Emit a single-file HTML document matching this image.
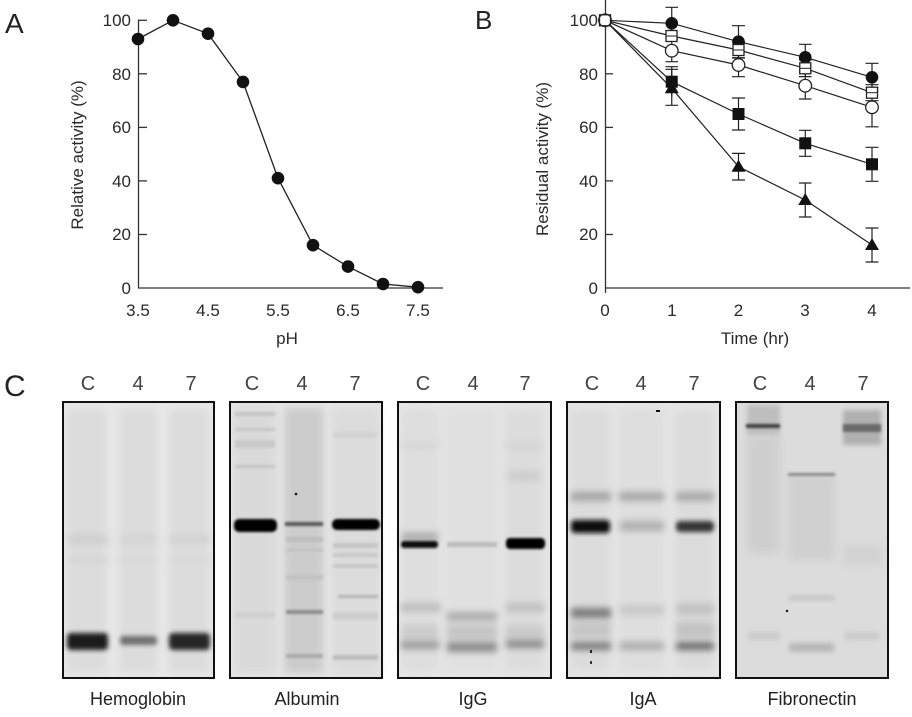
<!DOCTYPE html>
<html><head><meta charset="utf-8"><style>
html,body{margin:0;padding:0;background:#fff;}
svg{display:block;}
text{font-family:"Liberation Sans",Arial,sans-serif;}
</style></head><body>
<svg width="912" height="717" viewBox="0 0 912 717" xmlns="http://www.w3.org/2000/svg">
<defs>
<filter id="b1" x="-20%" y="-200%" width="140%" height="500%"><feGaussianBlur stdDeviation="1.2"/></filter>
<filter id="b2" x="-20%" y="-200%" width="140%" height="500%"><feGaussianBlur stdDeviation="2.4"/></filter>
<filter id="b3" x="-20%" y="-200%" width="140%" height="500%"><feGaussianBlur stdDeviation="3.5"/></filter>
<filter id="b5" x="-20%" y="-20%" width="140%" height="140%"><feGaussianBlur stdDeviation="4"/></filter>
</defs>
<rect width="912" height="717" fill="#fff"/>

<!-- Panel labels -->
<text x="5" y="33" font-size="28" fill="#222">A</text>
<text x="475" y="29" font-size="26" fill="#222">B</text>
<text x="4" y="396" font-size="30" fill="#222">C</text>

<!-- ===== Panel A ===== -->
<g stroke="#333" stroke-width="1.3" fill="none">
<line x1="138.5" y1="19.5" x2="138.5" y2="288"/>
<line x1="138" y1="288" x2="443" y2="288"/>
<line x1="138" y1="20.3" x2="147" y2="20.3"/>
<line x1="138" y1="73.8" x2="147" y2="73.8"/>
<line x1="138" y1="127.4" x2="147" y2="127.4"/>
<line x1="138" y1="180.9" x2="147" y2="180.9"/>
<line x1="138" y1="234.5" x2="147" y2="234.5"/>
</g>
<g font-size="17" fill="#2a2a2a" text-anchor="end">
<text x="131" y="26">100</text>
<text x="131" y="80">80</text>
<text x="131" y="133">60</text>
<text x="131" y="187">40</text>
<text x="131" y="240">20</text>
<text x="131" y="294">0</text>
</g>
<g font-size="17" fill="#2a2a2a" text-anchor="middle">
<text x="138" y="316">3.5</text>
<text x="208" y="316">4.5</text>
<text x="278" y="316">5.5</text>
<text x="348" y="316">6.5</text>
<text x="418" y="316">7.5</text>
<text x="287" y="344">pH</text>
</g>
<text transform="translate(83,155) rotate(-90)" font-size="17" fill="#2a2a2a" text-anchor="middle">Relative activity (%)</text>
<polyline fill="none" stroke="#222" stroke-width="1.3" points="138,39 173,20.3 208,33.7 243,81.9 278,178.2 313,245.2 348,266.6 383,284 418,287.2"/>
<g fill="#111">
<circle cx="138" cy="39" r="6.3"/><circle cx="173" cy="20.3" r="6.3"/><circle cx="208" cy="33.7" r="6.3"/>
<circle cx="243" cy="81.9" r="6.3"/><circle cx="278" cy="178.2" r="6.3"/><circle cx="313" cy="245.2" r="6.3"/>
<circle cx="348" cy="266.6" r="6.3"/><circle cx="383" cy="284" r="6.3"/><circle cx="418" cy="287.2" r="6.3"/>
</g>

<!-- ===== Panel B ===== -->
<g stroke="#333" stroke-width="1.3" fill="none">
<line x1="605.5" y1="0" x2="605.5" y2="293"/>
<line x1="605" y1="288" x2="910" y2="288"/>
<line x1="605" y1="73.8" x2="613" y2="73.8"/>
<line x1="605" y1="127.4" x2="613" y2="127.4"/>
<line x1="605" y1="180.9" x2="613" y2="180.9"/>
<line x1="605" y1="234.5" x2="613" y2="234.5"/>
</g>
<g font-size="17" fill="#2a2a2a" text-anchor="end">
<text x="598" y="26">100</text>
<text x="598" y="80">80</text>
<text x="598" y="133">60</text>
<text x="598" y="187">40</text>
<text x="598" y="240">20</text>
<text x="598" y="294">0</text>
</g>
<g font-size="17" fill="#2a2a2a" text-anchor="middle">
<text x="605" y="316">0</text>
<text x="672" y="316">1</text>
<text x="738.5" y="316">2</text>
<text x="805" y="316">3</text>
<text x="872" y="316">4</text>
<text x="755" y="344">Time (hr)</text>
</g>
<text transform="translate(548,159) rotate(-90)" font-size="17" fill="#2a2a2a" text-anchor="middle">Residual activity (%)</text>

<!-- lines -->
<g fill="none" stroke="#222" stroke-width="1.2">
<polyline points="605,20.3 671.75,23.3 738.5,41.7 805.25,57.3 872,77.3"/>
<polyline points="605,20.3 671.75,36 738.5,50 805.25,68.3 872,92.7"/>
<polyline points="605,20.3 671.75,50.7 738.5,65 805.25,85.7 872,107.3"/>
<polyline points="605,20.3 671.75,81.7 738.5,114 805.25,143.3 872,164.3"/>
<polyline points="605,20.3 671.75,88.3 738.5,166.7 805.25,200 872,245"/>
</g>
<!-- error bars -->
<g fill="none" stroke="#222" stroke-width="1.2">
<path d="M671.75,7.3V39.3M665.5,7.3H678M665.5,39.3H678"/>
<path d="M738.5,25.7V57.7M732,25.7H745M732,57.7H745"/>
<path d="M805.25,44.3V70.3M799,44.3H811.5M799,70.3H811.5"/>
<path d="M872,63.3V91.3M865.5,63.3H878.5M865.5,91.3H878.5"/>
<path d="M738.5,42V58M732,42H745M732,58H745"/>
<path d="M805.25,60V76.6M799,60H811.5M799,76.6H811.5"/>
<path d="M872,84.7V100.7M865.5,84.7H878.5M865.5,100.7H878.5"/>
<path d="M671.75,39.7V61.7M665.5,61.7H678"/>
<path d="M738.5,53.3V76.7M732,76.7H745"/>
<path d="M805.25,72.4V99M799,72.4H811.5M799,99H811.5"/>
<path d="M872,87.8V126.8M865.5,87.8H878.5M865.5,126.8H878.5"/>
<path d="M671.75,66.7V96.7M665.5,66.7H678"/>
<path d="M738.5,98V130M732,98H745M732,130H745"/>
<path d="M805.25,130.3V156.3M799,130.3H811.5M799,156.3H811.5"/>
<path d="M872,147.3V181.3M865.5,147.3H878.5M865.5,181.3H878.5"/>
<path d="M671.75,69.3V105.3M665.5,69.3H678M665.5,105.3H678"/>
<path d="M738.5,153.4V180M732,153.4H745M732,180H745"/>
<path d="M805.25,183V217M799,183H811.5M799,217H811.5"/>
<path d="M872,228V262M865.5,228H878.5M865.5,262H878.5"/>
</g>
<!-- markers -->
<g fill="#111">
<polygon points="671.75,81.3 664.75,93.3 678.75,93.3"/>
<polygon points="738.5,159.7 731.5,171.7 745.5,171.7"/>
<polygon points="805.25,193 798.25,205 812.25,205"/>
<polygon points="872,238 865,250 879,250"/>
<rect x="665.75" y="75.7" width="12" height="12"/>
<rect x="732.5" y="108" width="12" height="12"/>
<rect x="799.25" y="137.3" width="12" height="12"/>
<rect x="866" y="158.3" width="12" height="12"/>
<circle cx="671.75" cy="23.3" r="6.3"/>
<circle cx="738.5" cy="41.7" r="6.3"/>
<circle cx="805.25" cy="57.3" r="6.3"/>
<circle cx="872" cy="77.3" r="6.3"/>
</g>
<g fill="#fff" stroke="#222" stroke-width="1.3">
<circle cx="671.75" cy="50.7" r="6.3"/>
<circle cx="738.5" cy="65" r="6.3"/>
<circle cx="805.25" cy="85.7" r="6.3"/>
<circle cx="872" cy="107.3" r="6.3"/>
<circle cx="605" cy="20.3" r="6.3"/>
<rect x="666" y="30.5" width="11" height="11"/>
<rect x="733" y="44.5" width="11" height="11"/>
<rect x="799.75" y="62.8" width="11" height="11"/>
<rect x="866.5" y="87.2" width="11" height="11"/>
<rect x="599.5" y="14.8" width="11" height="11" fill="none"/>
</g>
<g stroke="#222" stroke-width="1">
<line x1="666" y1="36" x2="677" y2="36"/>
<line x1="733" y1="50" x2="744" y2="50"/>
<line x1="799.75" y1="68.3" x2="810.75" y2="68.3"/>
<line x1="866.5" y1="92.7" x2="877.5" y2="92.7"/>
</g>

<!-- ===== Panel C ===== -->
<g font-size="20" fill="#444" text-anchor="middle">
<text x="88" y="390">C</text><text x="138" y="390">4</text><text x="191" y="390">7</text>
<text x="252" y="390">C</text><text x="302" y="390">4</text><text x="355" y="390">7</text>
<text x="423" y="390">C</text><text x="473" y="390">4</text><text x="525" y="390">7</text>
<text x="592" y="390">C</text><text x="641" y="390">4</text><text x="694" y="390">7</text>
<text x="760" y="390">C</text><text x="810" y="390">4</text><text x="863" y="390">7</text>
</g>
<g font-size="18" fill="#222" text-anchor="middle">
<text x="138" y="705">Hemoglobin</text>
<text x="307" y="705">Albumin</text>
<text x="473" y="705">IgG</text>
<text x="643" y="705">IgA</text>
<text x="812" y="705">Fibronectin</text>
</g>

<!-- Gel 1 Hemoglobin -->
<g>
<rect x="63" y="402" width="151" height="276" fill="#e6e6e6"/>
<g filter="url(#b5)" fill="#dcdcdc">
<rect x="68" y="410" width="38" height="262"/><rect x="120" y="410" width="36" height="262"/><rect x="170" y="410" width="38" height="262"/>
</g>
<g filter="url(#b3)">
<rect x="68" y="535" width="40" height="9" fill="#cfcfcf"/>
<rect x="120" y="535" width="36" height="9" fill="#d4d4d4"/>
<rect x="170" y="535" width="40" height="9" fill="#d2d2d2"/>
<rect x="68" y="557" width="40" height="6" fill="#d6d6d6"/>
<rect x="120" y="557" width="36" height="6" fill="#d8d8d8"/>
<rect x="170" y="557" width="40" height="6" fill="#d8d8d8"/>
</g>
<g filter="url(#b2)">
<rect x="67" y="633" width="41" height="17" rx="4" fill="#1a1a1a"/>
<rect x="120" y="636" width="37" height="9" rx="3" fill="#707070"/>
<rect x="169" y="633" width="41" height="17" rx="4" fill="#262626"/>
</g>
<rect x="63" y="402" width="151" height="276" fill="none" stroke="#111" stroke-width="2"/>
</g>

<!-- Gel 2 Albumin -->
<g>
<rect x="230" y="402" width="152" height="276" fill="#e4e4e4"/>
<g filter="url(#b5)">
<rect x="234" y="408" width="42" height="265" fill="#dadada"/>
<rect x="285" y="408" width="38" height="265" fill="#cccccc"/>
<rect x="333" y="408" width="46" height="265" fill="#dcdcdc"/>
</g>
<g filter="url(#b1)">
<rect x="235" y="412" width="40" height="4" fill="#c4c4c4"/>
<rect x="235" y="428" width="40" height="3" fill="#c6c6c6"/>
<rect x="235" y="440" width="40" height="8" fill="#cacaca"/>
<rect x="235" y="465" width="40" height="3" fill="#c4c4c4"/>
<rect x="333" y="432" width="44" height="6" fill="#d2d2d2"/>
<rect x="286" y="537" width="37" height="5" fill="#bdbdbd"/>
<rect x="286" y="548" width="37" height="4" fill="#c4c4c4"/>
<rect x="286" y="575" width="37" height="5" fill="#c2c2c2"/>
<rect x="286" y="610" width="37" height="4" fill="#8a8a8a"/>
<rect x="286" y="654" width="37" height="4" fill="#a8a8a8"/>
<rect x="333" y="543" width="45" height="5" fill="#c4c4c4"/>
<rect x="333" y="553" width="45" height="4" fill="#c8c8c8"/>
<rect x="333" y="564" width="45" height="4" fill="#c8c8c8"/>
<rect x="338" y="595" width="40" height="3" fill="#b4b4b4"/>
<rect x="333" y="655" width="45" height="5" fill="#bcbcbc"/>
<rect x="235" y="612" width="40" height="6" fill="#d0d0d0"/>
<rect x="333" y="612" width="45" height="8" fill="#cdcdcd"/>
</g>
<g filter="url(#b1)">
<rect x="234" y="519" width="43" height="13" rx="5" fill="#000"/>
<rect x="285" y="522" width="38" height="4" fill="#555"/>
<rect x="332" y="519" width="48" height="11" rx="5" fill="#050505"/>
</g>
<circle cx="296" cy="494" r="1.3" fill="#111"/>
<rect x="230" y="402" width="152" height="276" fill="none" stroke="#111" stroke-width="2"/>
</g>

<!-- Gel 3 IgG -->
<g>
<rect x="398" y="402" width="153" height="276" fill="#e4e4e4"/>
<g filter="url(#b5)">
<rect x="402" y="410" width="36" height="260" fill="#dedede"/>
<rect x="446" y="410" width="50" height="260" fill="#e0e0e0"/>
<rect x="506" y="410" width="36" height="260" fill="#dcdcdc"/>
</g>
<g filter="url(#b3)">
<rect x="402" y="443" width="36" height="6" fill="#d4d4d4"/>
<rect x="506" y="443" width="36" height="6" fill="#d4d4d4"/>
<rect x="508" y="472" width="32" height="8" fill="#cbcbcb"/>
<rect x="402" y="533" width="36" height="8" fill="#a8a8a8"/>
<rect x="401" y="603" width="40" height="9" fill="#bdbdbd"/>
<rect x="447" y="612" width="50" height="9" fill="#aeaeae"/>
<rect x="506" y="603" width="38" height="9" fill="#c0c0c0"/>
<rect x="402" y="625" width="36" height="14" fill="#cccccc"/>
<rect x="447" y="625" width="50" height="14" fill="#c4c4c4"/>
<rect x="506" y="625" width="38" height="14" fill="#cacaca"/>
<rect x="401" y="641" width="38" height="8" fill="#999"/>
<rect x="447" y="642" width="50" height="10" fill="#8c8c8c"/>
<rect x="506" y="640" width="38" height="8" fill="#8a8a8a"/>
</g>
<g filter="url(#b1)">
<rect x="401" y="541" width="37" height="7" rx="3" fill="#111"/>
<rect x="447" y="542" width="50" height="5" fill="#bcbcbc"/>
<rect x="506" y="538" width="39" height="11" rx="4" fill="#000"/>
</g>
<rect x="398" y="402" width="153" height="276" fill="none" stroke="#111" stroke-width="2"/>
</g>

<!-- Gel 4 IgA -->
<g>
<rect x="567" y="402" width="153" height="276" fill="#e4e4e4"/>
<g filter="url(#b5)">
<rect x="571" y="410" width="38" height="260" fill="#dcdcdc"/>
<rect x="619" y="410" width="44" height="260" fill="#dedede"/>
<rect x="676" y="410" width="37" height="260" fill="#dcdcdc"/>
</g>
<g filter="url(#b3)">
<rect x="571" y="492" width="40" height="9" fill="#a4a4a4"/>
<rect x="619" y="492" width="45" height="9" fill="#a8a8a8"/>
<rect x="676" y="492" width="38" height="9" fill="#a8a8a8"/>
<rect x="620" y="521" width="44" height="10" fill="#b0b0b0"/>
<rect x="571" y="608" width="40" height="10" fill="#7a7a7a"/>
<rect x="620" y="605" width="44" height="10" fill="#c8c8c8"/>
<rect x="676" y="603" width="38" height="12" fill="#c2c2c2"/>
<rect x="571" y="622" width="40" height="16" fill="#c6c6c6"/>
<rect x="676" y="622" width="38" height="16" fill="#c2c2c2"/>
<rect x="571" y="642" width="40" height="8" fill="#7c7c7c"/>
<rect x="620" y="642" width="44" height="8" fill="#acacac"/>
<rect x="676" y="642" width="38" height="8" fill="#6c6c6c"/>
</g>
<g filter="url(#b2)">
<rect x="571" y="520" width="39" height="13" rx="4" fill="#0a0a0a"/>
<rect x="676" y="521" width="38" height="11" rx="4" fill="#353535"/>
</g>
<rect x="656" y="410" width="4" height="2" fill="#111"/>
<rect x="590" y="650" width="2" height="3" fill="#222"/>
<rect x="590" y="661" width="2" height="3" fill="#333"/>
<rect x="567" y="402" width="153" height="276" fill="none" stroke="#111" stroke-width="2"/>
</g>

<!-- Gel 5 Fibronectin -->
<g>
<rect x="736" y="402" width="152" height="276" fill="#dcdcdc"/>
<g filter="url(#b5)">
<rect x="747" y="435" width="33" height="118" fill="#cfcfcf"/>
<rect x="788" y="475" width="47" height="85" fill="#d0d0d0"/>
<rect x="843" y="545" width="38" height="20" fill="#d2d2d2"/>
</g>
<g filter="url(#b2)">
<rect x="747" y="405" width="33" height="30" fill="#bdbdbd"/>
<rect x="843" y="410" width="38" height="35" fill="#b0b0b0"/>
<rect x="748" y="632" width="32" height="8" fill="#cacaca"/>
<rect x="845" y="632" width="34" height="8" fill="#cacaca"/>
<rect x="789" y="596" width="45" height="4" fill="#bfbfbf"/>
<rect x="789" y="643" width="45" height="9" fill="#b8b8b8"/>
</g>
<g filter="url(#b1)">
<rect x="746" y="424" width="34" height="4" fill="#3c3c3c"/>
<rect x="843" y="424" width="38" height="8" fill="#6a6a6a"/>
<rect x="788" y="473" width="47" height="3" fill="#888"/>
</g>
<circle cx="787" cy="611" r="1.2" fill="#111"/>
<rect x="736" y="402" width="152" height="276" fill="none" stroke="#111" stroke-width="2"/>
</g>
</svg>
</body></html>
